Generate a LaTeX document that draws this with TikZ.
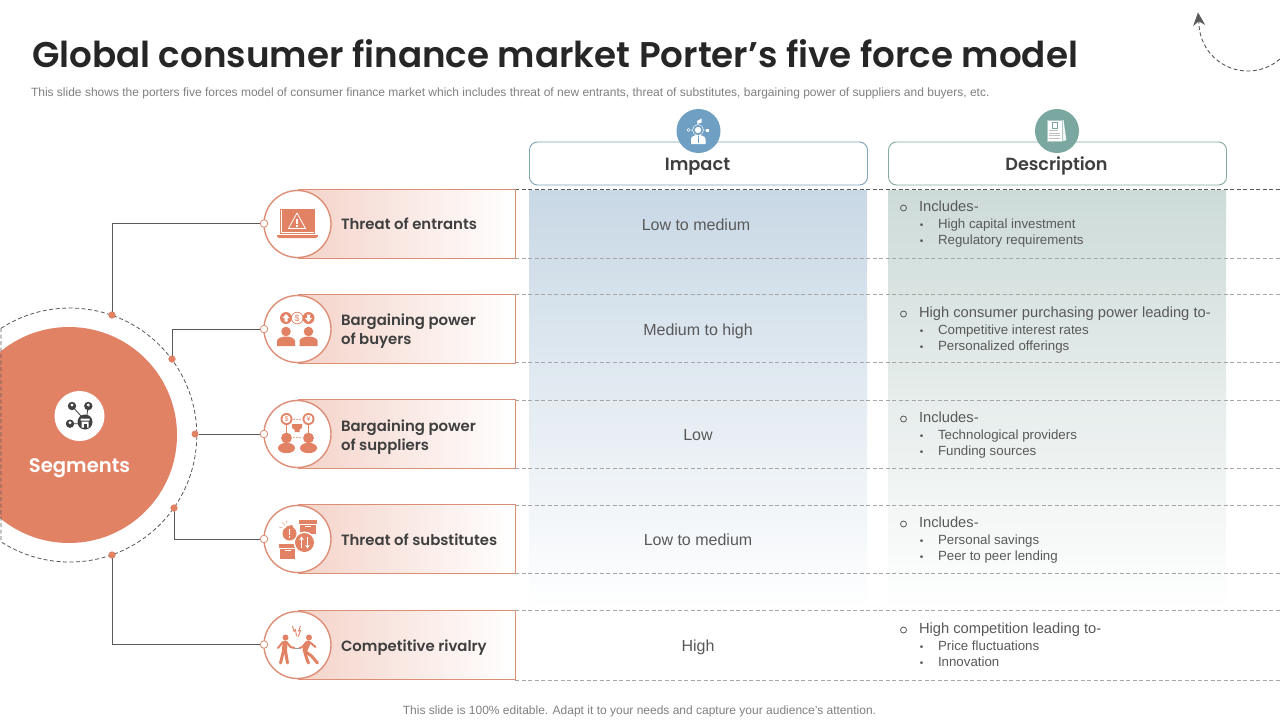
\documentclass[tikz,border=0pt]{standalone}
\usepackage{fontspec}
\setmainfont{Liberation Sans}
\newfontfamily\headfont[BoldFont={Poppins SemiBold}]{Poppins}
\usetikzlibrary{arrows.meta}
\definecolor{salmon}{HTML}{E28265}
\definecolor{edgesalmon}{HTML}{DD8E76}
\definecolor{pinkfill}{HTML}{F4D3C9}
\definecolor{wire}{HTML}{595959}
\definecolor{bodytext}{HTML}{595959}
\definecolor{darkhead}{HTML}{3F3F3F}
\definecolor{bluehead}{HTML}{7FA3BA}
\definecolor{greenhead}{HTML}{85AAA3}
\definecolor{blueicon}{HTML}{6F9FC3}
\definecolor{greenicon}{HTML}{7AA8A0}
\definecolor{bluepanel}{HTML}{C8D8E5}
\definecolor{greenpanel}{HTML}{CDDBD8}
\newcommand\fs[1]{\fontsize{#1}{#1}\selectfont}
\tikzset{
  x=1pt,y=-1pt,
  txt/.style={inner sep=0,outer sep=0,text=bodytext},
  rowlabel/.style={txt,anchor=base west,text=darkhead,font=\headfont\bfseries\fs{14.9}},
  impacttext/.style={txt,anchor=base,font=\fs{16}},
  headtext/.style={txt,anchor=base west,font=\fs{14.7}},
  subtext/.style={txt,anchor=base west,font=\fs{13.3}},
  bulletmark/.style={txt,anchor=base,font=\fs{10}},
  ringmarkstyle/.style={circle,draw=bodytext,line width=0.8pt,inner sep=0,minimum size=6pt},
  gridline/.style={draw=black!35,line width=0.7pt,dash pattern=on 4pt off 2.5pt},
  wirepath/.style={draw=wire,line width=1pt},
  enddot/.style={circle,fill=salmon,inner sep=0,minimum size=7pt},
  portdot/.style={circle,fill=white,draw=edgesalmon,line width=0.8pt,inner sep=0,minimum size=7.5pt},
  ringnode/.style={circle,fill=white,draw=edgesalmon,line width=1.4pt,inner sep=0,minimum size=67pt},
  headbox/.style={rectangle,rounded corners=8pt,fill=white,line width=0.9pt,minimum width=338pt,minimum height=43pt,inner sep=0},
}
\begin{document}
\begin{tikzpicture}
\useasboundingbox (0,0) rectangle (1280,720);
\clip (0,0) rectangle (1280,720);
\fill[white] (0,0) rectangle (1280,720);

% title
\node[txt,anchor=base west,text=black!85,font=\headfont\bfseries\fs{35.7}] (title) at (32,67) {Global consumer finance market Porter’s five force model};
\node[txt,anchor=base west,text=black!50,font=\fs{12}] (subtitle) at (31,96) {This slide shows the porters five forces model of consumer finance market which includes threat of new entrants, threat of substitutes, bargaining power of suppliers and buyers, etc.};
\node[txt,anchor=base,text=black!50,font=\fs{12}] (footer) at (639.5,714) {This slide is 100\% editable. Adapt it to your needs and capture your audience's attention.};

% corner arc
\coordinate (arcstart) at (1280,59);
\coordinate (arctip) at (1198,12.5);
\draw[wire,line width=0.9pt,dash pattern=on 4pt off 2.5pt,-{Stealth[length=13pt,width=12pt]}] (arcstart) arc[start angle=49,end angle=180,radius=49] -- (arctip);

% panels
\shade[top color=bluepanel,bottom color=white] (529,190) rectangle (867,610);
\shade[top color=greenpanel,bottom color=white] (888,190) rectangle (1226,610);

% grid lines
\foreach \yy in {258,294,362,400,468,505,573,610,680}
  \draw[gridline] (515,\yy) -- (1280,\yy);
\draw[gridline,draw=black!65] (515,189.5) -- (1280,189.5);

% header boxes
\node[headbox,draw=bluehead] (impacthead) at (698.5,163.5) {};
\node[headbox,draw=greenhead] (deschead) at (1057.5,163.5) {};
\node[txt,anchor=base,text=darkhead,font=\headfont\bfseries\fs{17.8}] (impacttitle) at (697.5,170) {Impact};
\node[txt,anchor=base,text=darkhead,font=\headfont\bfseries\fs{17.6}] (desctitle) at (1056.5,170) {Description};
\node[circle,fill=blueicon,minimum size=44pt,inner sep=0] (impacticon) at (698.5,131) {};
\node[circle,fill=greenicon,minimum size=44pt,inner sep=0] (descicon) at (1057,131) {};

% impact icon
\begin{scope}[shift={(698.5,131)}]
  \fill[white] (-0.5,-1) circle (3.2);
  \fill[white] (-7.5,13) -- (-7.5,8) .. controls (-7.5,5) and (-3,4) .. (-0.5,4) .. controls (2,4) and (7,5) .. (7,8) -- (7,13) -- cycle;
  \draw[blueicon,line width=0.7pt] (-0.5,4) -- (-0.5,12);
  \draw[white,line width=0.5pt] (-0.5,-1) circle (5.5);
  \fill[white] (-1.5,-10) -- (3,-12.5) -- (3,-8.5) -- (-1,-7) -- cycle;
  \draw[white,line width=0.5pt] (-10,-1) circle (1.6) (-8.4,-1) -- (-6,-1) (5,-1) -- (7,-1);
  \fill[white] (7,-2.5) rectangle (10.5,0.5);
\end{scope}
% description icon
\begin{scope}[shift={(1057,131)}]
  \fill[white!90!greenicon,rotate=8] (-6.5,-10) rectangle (8,10.5);
  \draw[greenicon!60,line width=0.4pt,fill=white] (-10,-11) rectangle (5,10);
  \draw[greenicon,line width=0.5pt] (-5,-9) rectangle (0,-3);
  \draw[black!25,line width=0.5pt] (-8,-0.5) -- (1,-0.5) (-8,2) -- (3,2) (-8,4.5) -- (3,4.5) (-8,7.5) -- (3,7.5);
\end{scope}

% main circle
\node[circle,fill=salmon,minimum size=216pt,inner sep=0] (hub) at (69,435) {};
\draw[wire,line width=0.8pt,dash pattern=on 4pt off 2.5pt] (1,328.3) arc[start angle=-122.8,end angle=122.8,radius=127] -- cycle;
\node[circle,fill=white,minimum size=50pt,inner sep=0] (hubicon) at (79.5,416) {};
\node[txt,anchor=base,text=white,font=\headfont\bfseries\fs{19.6}] (hublabel) at (79.5,472) {Segments};
\begin{scope}[shift={(79.5,416)}]
  \draw[black!75,line width=0.8pt] (-7.5,-10) -- (6,5) (8.8,-10) -- (6.5,5) (-9.5,7.7) -- (6,7.7);
  \fill[black!75] (-7.5,-10) circle (4.2) (8.8,-10) circle (4.2) (-9.5,7.7) circle (4.2);
  \fill[white] (-7.5,-11) circle (1.6) (8.8,-11) circle (1.6) (-9.5,6.7) circle (1.6);
  \fill[black!75] (5.5,6) circle (7.5);
  \fill[white] (1,2.5) rectangle (10,4.5) (2,5.5) rectangle (9,11.5);
  \fill[black!75] (4.5,7.5) rectangle (7,11.5);
\end{scope}

% pills
\foreach \n/\yy/\py in {1/224/223.5,2/329/329,3/434/434,4/539/539,5/645/644.5}{
  \fill[left color=pinkfill,right color=white] (297.5,\yy-34.5) rectangle (515,\yy+34.5);
  \draw[edgesalmon,line width=1pt] (297.5,\yy-34.5) -- (515,\yy-34.5) -- (515,\yy+34.5) -- (297.5,\yy+34.5);
  \node[ringnode] (ring\n) at (297.5,\yy) {};
  \node[portdot] (port\n) at (264,\py) {};
}

% row labels
\node[rowlabel] (label1) at (341,229.5) {Threat of entrants};
\node[rowlabel] (label2a) at (341,325) {Bargaining power};
\node[rowlabel] (label2b) at (341,344) {of buyers};
\node[rowlabel] (label3a) at (341,431) {Bargaining power};
\node[rowlabel] (label3b) at (341,450) {of suppliers};
\node[rowlabel] (label4) at (341,545) {Threat of substitutes};
\node[rowlabel] (label5) at (341,651) {Competitive rivalry};

% connectors
\node[enddot] (dot1) at (112,315) {};
\node[enddot] (dot2) at (172,359) {};
\node[enddot] (dot3) at (195,434) {};
\node[enddot] (dot4) at (174,508) {};
\node[enddot] (dot5) at (112,555) {};
\draw[wirepath] (dot1.center) |- (port1.west);
\draw[wirepath] (dot2.center) |- (port2.west);
\draw[wirepath] (dot3.east) -- (port3.west);
\draw[wirepath] (dot4.center) |- (port4.west);
\draw[wirepath] (dot5.center) |- (port5.west);
\foreach \n in {1,2,4,5}{\node[enddot] at (dot\n) {};}

% icon 1: laptop
\begin{scope}[shift={(297.5,224)}]
  \draw[salmon,line width=0.8pt] (-17,-15) rectangle (17,9);
  \fill[salmon] (-16,-14) rectangle (16,8);
  \fill[salmon] (-20.5,11) -- (20.5,11) -- (20.5,12.5) -- (18.5,14) -- (-18.5,14) -- (-20.5,12.5) -- cycle;
  \draw[white,line width=0.8pt,line join=round] (-0.5,-11) -- (8,4.5) -- (-9,4.5) -- cycle;
  \draw[white,line width=1.2pt] (-0.5,-5.5) -- (-0.5,-0.5) (-0.5,0.8) -- (-0.5,2.6);
\end{scope}

% icon 2: buyers
\begin{scope}[shift={(297.5,329)}]
  \fill[salmon] (-11.5,-11) circle (6) (11,-11) circle (6);
  \draw[salmon,line width=0.7pt] (-0.3,-11) circle (5.8);
  \node[txt,text=salmon,font=\fs{9}] (dollar) at (-0.3,-11) {\$};
  \fill[white] (-11.5,-15) -- (-15,-11) -- (-13,-11) -- (-13,-7.5) -- (-10,-7.5) -- (-10,-11) -- (-8,-11) -- cycle;
  \fill[white] (11,-7) -- (14.5,-11) -- (12.5,-11) -- (12.5,-14.5) -- (9.5,-14.5) -- (9.5,-11) -- (7.5,-11) -- cycle;
  \fill[salmon] (-11.5,2.5) circle (4.8) (11,2.5) circle (4.8);
  \fill[salmon] (-20.5,17) -- (-20.5,12) .. controls (-20.5,9) and (-15,7.5) .. (-11.5,7.5) .. controls (-8,7.5) and (-2.5,9) .. (-2.5,12) -- (-2.5,17) -- cycle;
  \fill[salmon] (2,17) -- (2,12) .. controls (2,9) and (7.5,7.5) .. (11,7.5) .. controls (14.5,7.5) and (20,9) .. (20,12) -- (20,17) -- cycle;
\end{scope}

% icon 3: suppliers
\begin{scope}[shift={(297.5,434)}]
  \fill[salmon] (-11,-15) circle (6) (11,-15) circle (6);
  \fill[white] (-11,-15) circle (4.2) (11,-15) circle (4.2);
  \node[txt,text=salmon,font=\fs{7}] (cur1) at (-11,-15) {\$};
  \node[txt,text=salmon,font=\fs{7}] (cur2) at (11,-15) {¥};
  \draw[salmon,line width=1pt] (-11,-9.5) -- (-11,-1) (11,-9.5) -- (11,-1);
  \draw[salmon!70,line width=0.6pt,dash pattern=on 1.5pt off 1.5pt] (-4.5,-15) -- (4.5,-15) (-4.5,3.5) -- (4.5,3.5);
  \fill[salmon] (-5.5,-10) -- (4.5,-10) -- (4.5,-6) -- (2,-4.5) -- (2,-2) -- (-3,-2) -- (-3,-4.5) -- (-5.5,-6) -- cycle;
  \fill[salmon] (-11,4) circle (5.4) (11,4) circle (5.4);
  \fill[salmon] (-11,14) ellipse (8.5 and 5.2) (11,14) ellipse (8.5 and 5.2);
\end{scope}

% icon 4: substitutes
\begin{scope}[shift={(297.5,539)}]
  \fill[salmon] (1.5,-19) rectangle (19,-15.5);
  \fill[salmon] (2.5,-14.5) rectangle (18,-5);
  \draw[white,line width=0.7pt] (7,-12.5) -- (13,-12.5);
  \fill[salmon] (-18.5,5) rectangle (-1.5,8.5);
  \fill[salmon] (-17.5,9.5) rectangle (-2.5,19.5);
  \draw[white,line width=0.7pt] (-13,11.5) -- (-7,11.5);
  \fill[white] (7,3.5) circle (11);
  \fill[salmon] (7,3.5) circle (9.5);
  \draw[white,line width=0.9pt,-{Stealth[length=3.5pt,width=4.5pt]}] (4,9) -- (4,-2.5);
  \draw[white,line width=0.9pt,-{Stealth[length=3.5pt,width=4.5pt]}] (10,-2) -- (10,9.5);
  \fill[white] (-8,-5.5) circle (8);
  \fill[salmon] (-8,-5.5) circle (7);
  \fill[salmon] (-11,-12.5) -- (-5.5,-14) -- (-3.5,-10) -- (-10.5,-9) -- cycle;
  \draw[white,line width=1.4pt] (-8,-10) -- (-8,-4.5) (-8,-3) -- (-8,-1);
  \draw[salmon!70,line width=0.6pt] (-12.5,-13.5) -- (-15.5,-16.5) (-10.5,-15.5) -- (-11.5,-18.5) (-14.5,-11) -- (-18.5,-12);
\end{scope}

% icon 5: rivalry
\begin{scope}[shift={(297.5,645)}]
  \draw[salmon,line width=0.9pt,line join=round] (-5,-19) -- (-3.5,-13.5) -- (-2,-15.5) -- (-1,-9) (3,-19) -- (1,-14) -- (3,-14.5) -- (0.5,-8);
  \fill[salmon] (-12,-7.5) circle (3) (11.5,-7.5) circle (3);
  % left figure
  \draw[salmon,line width=5pt,line cap=round] (-12.5,-2) -- (-13,6);
  \draw[salmon,line width=3pt,line cap=round,line join=round] (-14,6) -- (-17,18) (-12,6) -- (-10,18);
  \draw[salmon,line width=2pt,line cap=round,line join=round] (-14.5,-3) -- (-19.5,3) (-11,-3) -- (-7,2) -- (-3,3);
  % right figure
  \draw[salmon,line width=5pt,line cap=round] (10.5,-2) -- (7.5,5);
  \draw[salmon,line width=3pt,line cap=round,line join=round] (7,6) -- (14,11) -- (20,18) (7,6) -- (9,13) -- (11,18);
  \draw[salmon,line width=2pt,line cap=round,line join=round] (12,-3) -- (18,2) (9,-3) -- (5,2) -- (2,3);
  \draw[black!40,line width=0.6pt] (-3,3) -- (2,3);
\end{scope}

% impact column
\node[impacttext] (imp1) at (696,230) {Low to medium};
\node[impacttext] (imp2) at (698,335) {Medium to high};
\node[impacttext] (imp3) at (698,440) {Low};
\node[impacttext] (imp4) at (698,545) {Low to medium};
\node[impacttext] (imp5) at (698,651) {High};

% description column
\foreach \n/\yy/\hh/\aa/\bb in {
  1/211/{Includes-}/{High capital investment}/{Regulatory requirements},
  2/317/{High consumer purchasing power leading to-}/{Competitive interest rates}/{Personalized offerings},
  3/422/{Includes-}/{Technological providers}/{Funding sources},
  4/527/{Includes-}/{Personal savings}/{Peer to peer lending},
  5/633/{High competition leading to-}/{Price fluctuations}/{Innovation}}{
  \node[ringmarkstyle] (ringmark\n) at (903.5,\yy-3) {};
  \node[headtext] (head\n) at (919,\yy) {\hh};
  \node[bulletmark] (bull\n a) at (921.5,\yy+17) {•};
  \node[subtext] (sub\n a) at (938,\yy+17) {\aa};
  \node[bulletmark] (bull\n b) at (921.5,\yy+33) {•};
  \node[subtext] (sub\n b) at (938,\yy+33) {\bb};
}
\end{tikzpicture}
\end{document}
